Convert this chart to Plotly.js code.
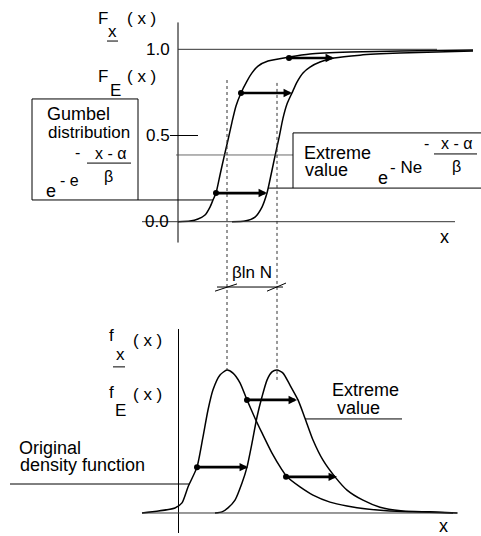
<!DOCTYPE html>
<html>
<head>
<meta charset="utf-8">
<script src="https://cdn.plot.ly/plotly-3.0.1.min.js"></script>
<style>
  html, body { margin: 0; padding: 0; background: #fff; }
  #chart { width: 481px; height: 536px; }
</style>
</head>
<body>
<div id="chart"></div>
<script>
// Distribution functions F(x): original (Gumbel) and extreme value of N samples
const origCdfX = [0.1, 1.3, 2.1, 2.8, 3.3, 3.6, 3.9, 4.3, 4.7, 5.1, 5.5, 5.9, 6.4, 7.0, 7.5, 8.1, 9.1, 11.2, 13.3, 17.3, 22.3, 29.6];
const origCdfF = [0.0, 0.004, 0.016, 0.039, 0.085, 0.126, 0.166, 0.271, 0.375, 0.474, 0.578, 0.671, 0.747, 0.816, 0.863, 0.903, 0.932, 0.955, 0.973, 0.984, 0.990, 0.996];
const extCdfX = [5.5, 6.8, 7.8, 8.5, 9.0, 9.4, 9.8, 10.2, 10.6, 11.0, 11.5, 12.0, 12.6, 13.3, 14.3, 15.7, 18.3, 22.3, 29.6];
const extCdfF = [0.0, 0.004, 0.027, 0.085, 0.166, 0.271, 0.381, 0.486, 0.601, 0.683, 0.747, 0.810, 0.863, 0.897, 0.926, 0.949, 0.966, 0.978, 0.990];

// Density functions f(x)
const origPdfX = [-3.5, -0.2, 0.5, 1.1, 2.0, 2.6, 3.1, 3.6, 4.3, 5.0, 5.6, 6.3, 7.0, 7.8, 8.5, 9.5, 10.5, 11.0, 12.3, 13.6, 15.3, 17.0, 19.0, 21.3, 23.6, 27.6];
const origPdfF = [0.0, 0.013, 0.026, 0.067, 0.118, 0.196, 0.265, 0.317, 0.355, 0.368, 0.360, 0.335, 0.291, 0.244, 0.206, 0.154, 0.111, 0.093, 0.067, 0.046, 0.028, 0.018, 0.010, 0.005, 0.003, 0.0];
const extPdfX = [3.8, 4.5, 5.1, 5.8, 6.5, 7.0, 7.5, 8.0, 8.5, 9.0, 9.5, 10.0, 10.6, 11.3, 12.1, 12.8, 13.6, 14.6, 15.8, 17.0, 18.6, 20.3, 22.6, 25.3, 28.0];
const extPdfF = [0.0, 0.003, 0.013, 0.033, 0.077, 0.118, 0.180, 0.247, 0.299, 0.342, 0.363, 0.368, 0.360, 0.329, 0.291, 0.244, 0.188, 0.136, 0.093, 0.059, 0.033, 0.015, 0.005, 0.003, 0.0];

// Shift arrows (level, start on original curve, end on extreme curve)
const cdfArrowLevel = [0.166, 0.747, 0.95];
const cdfArrowFrom  = [3.9, 6.4, 11.2];
const cdfArrowTo    = [9.0, 11.5, 15.7];
const pdfArrowLevel = [0.118, 0.291, 0.093];
const pdfArrowFrom  = [2.0, 7.0, 10.9];
const pdfArrowTo    = [7.1, 12.0, 16.0];

// Modes of the two distributions (alpha and alpha + beta ln N)
const modeX = [5.0, 10.0];
const modeLevel = 0.387;

// F axis ticks
const tickVals = [0, 0.5, 1.0];
const tickText = ['0.0', '0.5', '1.0'];

const ink = '#000';
const FONT = '"Liberation Sans", Arial, Helvetica, sans-serif';

function curve(x, y, axis) {
  return { type: 'scatter', mode: 'lines', x: x, y: y, yaxis: axis,
           line: { color: ink, width: 1.5, shape: 'spline', smoothing: 0.6 },
           hoverinfo: 'skip' };
}
function dots(x, y, axis) {
  return { type: 'scatter', mode: 'markers', x: x, y: y, yaxis: axis,
           marker: { color: ink, size: 6 }, hoverinfo: 'skip' };
}
function seg(x0, y0, x1, y1, yref, opts) {
  const o = opts || {};
  return { type: 'line', xref: 'x', yref: yref || 'y', x0: x0, y0: y0, x1: x1, y1: y1,
           line: { color: o.color || ink, width: o.width || 1, dash: o.dash || 'solid' } };
}
function label(text, x, y, size, yref) {
  return { text: text, x: x, y: y, xref: 'x', yref: yref || 'y', showarrow: false,
           font: { family: FONT, size: size || 18, color: ink } };
}
function arrow(from, to, level, yref) {
  return { x: to, y: level, ax: from, ay: level, xref: 'x', yref: yref, axref: 'x', ayref: yref,
           text: '', showarrow: true, arrowhead: 2, arrowsize: 0.65, arrowwidth: 2.6,
           arrowcolor: ink, standoff: 0, startstandoff: 0 };
}

const data = [
  curve(origCdfX, origCdfF, 'y'),
  curve(extCdfX, extCdfF, 'y'),
  curve(origPdfX, origPdfF, 'y2'),
  curve(extPdfX, extPdfF, 'y2'),
  dots(cdfArrowFrom, cdfArrowLevel, 'y'),
  dots(pdfArrowFrom, pdfArrowLevel, 'y2')
];

const shapes = [
  // F axis and its ticks
  seg(0.1, 1.156, 0.1, -0.121),
  seg(0.1, tickVals[2], 26.0, tickVals[2], 'y', { color: '#333' }),
  seg(-0.7, tickVals[1], 2.1, tickVals[1]),
  seg(-3.5, tickVals[0], 27.8, tickVals[0], 'y', { color: '#333' }),
  // level of F at the modes
  seg(-0.1, modeLevel, 11.6, modeLevel, 'y', { color: '#444', width: 0.8 }),
  // Gumbel box with leader
  { type: 'rect', xref: 'x', yref: 'y', x0: -14.5, x1: -3.9, y0: 0.126, y1: 0.712, line: { color: ink, width: 1 } },
  seg(-3.9, 0.126, 3.6, 0.126),
  seg(-9.0, 0.34, -4.6, 0.34),
  // Extreme value box (open on the right) with leader
  seg(11.6, 0.515, 31, 0.515),
  seg(11.6, 0.515, 11.6, 0.195),
  seg(9.1, 0.195, 31, 0.195),
  seg(25.7, 0.393, 30.0, 0.393),
  // underline of the subscript x
  seg(-7.0, 1.048, -5.9, 1.048),
  // vertical dotted lines through the modes
  seg(modeX[0], 0.822, modeX[0], -0.860, 'y', { dash: 'dot', color: '#333', width: 1 }),
  seg(modeX[1], 0.805, modeX[1], -0.918, 'y', { dash: 'dot', color: '#333', width: 1 }),
  // dimension beta ln N
  seg(4.0, -0.379, 10.6, -0.379),
  seg(3.8, -0.403, 6.0, -0.361),
  seg(9.0, -0.403, 10.9, -0.356),
  // density axes
  seg(0.15, 0.4735, 0.15, -0.0515, 'y2'),
  seg(-3.5, 0, 28.1, 0, 'y2', { color: '#333' }),
  seg(-6.4, 0.376, -5.2, 0.376, 'y2'),
  // leaders of density labels
  seg(-16.7, 0.0746, 1.3, 0.0746, 'y2'),
  seg(12.8, 0.242, 22.5, 0.242, 'y2')
];

const annotations = [
  // F axis labels
  label('F', -7.4, 1.176, 17),
  label('( x )', -3.55, 1.176, 17),
  label('x', -6.45, 1.106, 17),
  label('F', -7.4, 0.845, 17),
  label('( x )', -3.55, 0.845, 17),
  label('E', -6.2, 0.764, 17),
  label(tickText[2], -1.9, tickVals[2], 17),
  label(tickText[1], -1.9, tickVals[1], 17),
  label(tickText[0], -2.0, tickVals[0], 17),
  // Gumbel box text
  label('Gumbel', -9.85, 0.624, 18),
  label('distribution', -8.8, 0.52, 17),
  label('e', -12.6, 0.178, 18),
  label('- e', -10.8, 0.241, 16),
  label('-', -9.95, 0.404, 16),
  label('x - α', -6.7, 0.398, 16),
  label('β', -6.9, 0.265, 16),
  // Extreme value box text
  label('Extreme', 16.0, 0.398, 18),
  label('value', 14.9, 0.30, 18),
  label('e', 20.6, 0.253, 18),
  label('- Ne', 22.9, 0.317, 17),
  label('-', 24.95, 0.456, 16),
  label('x - α', 27.9, 0.451, 16),
  label('β', 27.9, 0.323, 16),
  label('x', 26.7, -0.089, 18),
  label('βln N', 7.5, -0.292, 17),
  // density labels
  label('f', -6.55, 0.4555, 17, 'y2'),
  label('( x )', -3.0, 0.445, 17, 'y2'),
  label('x', -5.7, 0.409, 17, 'y2'),
  label('f', -6.55, 0.311, 17, 'y2'),
  label('( x )', -3.0, 0.304, 17, 'y2'),
  label('E', -5.7, 0.265, 17, 'y2'),
  label('Original', -12.7, 0.167, 18, 'y2'),
  label('density function', -9.45, 0.1235, 18, 'y2'),
  label('Extreme', 18.8, 0.3165, 18, 'y2'),
  label('value', 18.1, 0.270, 18, 'y2'),
  label('x', 26.65, -0.033, 18, 'y2')
];

for (let i = 0; i < cdfArrowLevel.length; i++) {
  annotations.push(arrow(cdfArrowFrom[i], cdfArrowTo[i], cdfArrowLevel[i], 'y'));
}
for (let i = 0; i < pdfArrowLevel.length; i++) {
  annotations.push(arrow(pdfArrowFrom[i], pdfArrowTo[i], pdfArrowLevel[i], 'y2'));
}

const layout = {
  width: 481, height: 536,
  margin: { l: 0, r: 0, t: 0, b: 0, pad: 0 },
  paper_bgcolor: '#fff', plot_bgcolor: '#fff',
  showlegend: false,
  xaxis: { range: [-17.7, 30.4], visible: false, fixedrange: true },
  yaxis: { range: [-1.8234, 1.2861], domain: [0, 1], visible: false, fixedrange: true },
  yaxis2: { range: [-0.0592, 1.3201], overlaying: 'y', visible: false, fixedrange: true },
  shapes: shapes,
  annotations: annotations
};

Plotly.newPlot('chart', data, layout, { staticPlot: true, displayModeBar: false });
</script>
</body>
</html>
